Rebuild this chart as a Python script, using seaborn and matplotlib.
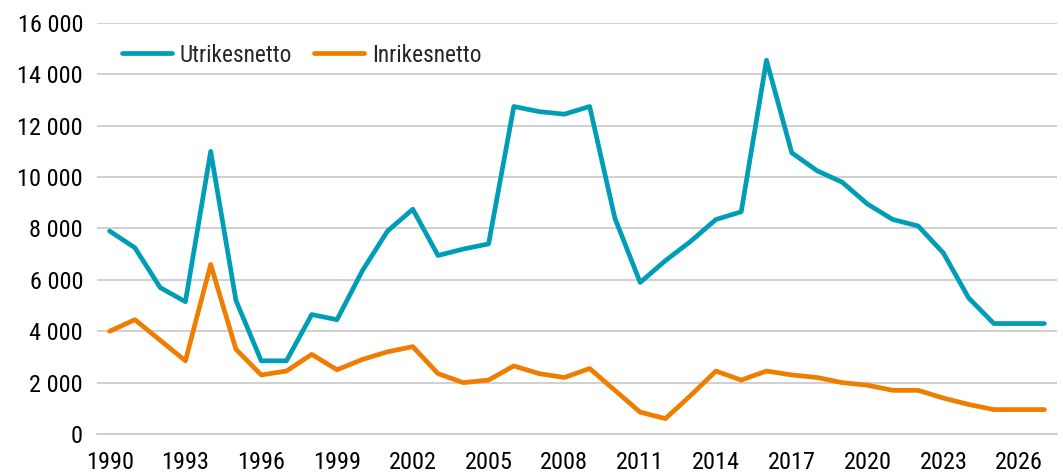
import pandas as pd
import numpy as np
import seaborn as sns
import matplotlib.pyplot as plt
from matplotlib import font_manager
from matplotlib.ticker import FuncFormatter, MultipleLocator

years = list(range(1990, 2028))
utrikes = [7900, 7250, 5700, 5150, 11000, 5200, 2850, 2850, 4650, 4450,
           6350, 7900, 8750, 6950, 7200, 7400, 12750, 12550, 12450, 12750,
           8400, 5900, 6750, 7500, 8350, 8650, 14550, 10950, 10250, 9800,
           8950, 8350, 8100, 7050, 5300, 4300, 4300, 4300]
inrikes = [4000, 4450, 3650, 2850, 6600, 3300, 2300, 2450, 3100, 2500,
           2900, 3200, 3400, 2350, 2000, 2100, 2650, 2350, 2200, 2550,
           1700, 850, 600, 1500, 2450, 2100, 2450, 2300, 2200, 2000,
           1900, 1700, 1700, 1400, 1150, 950, 950, 950]

df = pd.DataFrame({'year': years, 'Utrikesnetto': utrikes, 'Inrikesnetto': inrikes})
df = df.melt(id_vars='year', var_name='serie', value_name='netto')

sns.set_theme(style="white")

# pick a condensed font if there is one, otherwise Liberation Sans
installed = {f.name for f in font_manager.fontManager.ttflist}
fam, tick_fs, leg_fs = 'Liberation Sans', 16, 15
for name in ['Roboto Condensed', 'Liberation Sans Narrow', 'Open Sans Condensed']:
    if name in installed:
        fam, tick_fs, leg_fs = name, 17.5, 16.8
        break
plt.rcParams['font.family'] = [fam, 'DejaVu Sans']

fig = plt.figure(figsize=(10.63, 4.72), dpi=100)
ax = fig.add_axes([97 / 1063, 1 - 434 / 472, 960 / 1063, 411 / 472])

sns.lineplot(data=df, x='year', y='netto', hue='serie',
             palette={'Utrikesnetto': '#009DB6', 'Inrikesnetto': '#EF7D00'},
             linewidth=3.4, ax=ax, solid_capstyle='round')

ax.set_xlim(1989.5, 2027.5)
ax.set_ylim(0, 16000)
ax.yaxis.set_major_locator(MultipleLocator(2000))
ax.yaxis.set_major_formatter(FuncFormatter(lambda v, p: f"{int(v):,}".replace(',', ' ')))
ax.grid(axis='y', color='#C8C8C8', linewidth=1.2)
ax.set_axisbelow(True)

ax.set_xticks(np.arange(1990, 2028, 3))
ax.set_xticks(np.arange(1989.5, 2028, 1), minor=True)
ax.tick_params(axis='x', which='major', length=0, labelsize=tick_fs, pad=12, colors='black')
ax.tick_params(axis='x', which='minor', length=6, width=1.2, color='#C8C8C8', direction='out')
ax.tick_params(axis='y', length=0, labelsize=tick_fs, pad=10, colors='black')

for s in ['top', 'right', 'left']:
    ax.spines[s].set_visible(False)
ax.spines['bottom'].set_color('#C8C8C8')
ax.spines['bottom'].set_linewidth(1.2)

ax.set_xlabel('')
ax.set_ylabel('')
ax.legend(loc='center left', bbox_to_anchor=(0.026, 0.922), ncol=2, frameon=False,
          fontsize=leg_fs, handlelength=2.15, columnspacing=0.95, handletextpad=0.32,
          borderpad=0, borderaxespad=0)

plt.savefig('out.png', dpi=100)
